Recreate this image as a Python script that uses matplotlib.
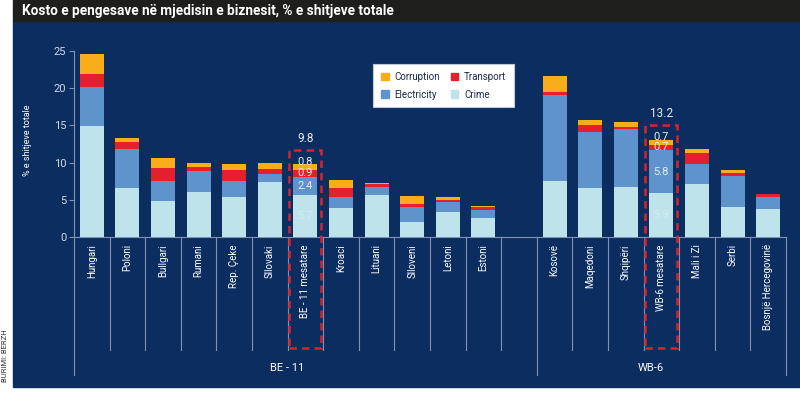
import numpy as np
import matplotlib
matplotlib.use("Agg")
import matplotlib.pyplot as plt
from matplotlib.patches import Rectangle, Patch

plt.rcParams['font.family'] = ['Roboto', 'DejaVu Sans']

# kategorite (slot 12 bosh, ndan dy grupet)
vendet = ['Hungari', 'Poloni', 'Bullgari', 'Rumani', 'Rep. Çeke', 'Sllovaki',
          'BE - 11 mesatare', 'Kroaci', 'Lituani', 'Slloveni', 'Letoni', 'Estoni',
          '', 'Kosovë', 'Maqedoni', 'Shqipëri', 'WB-6 mesatare', 'Mali i Zi',
          'Serbi', 'Bosnjë Hercegovinë']

crime = [14.9, 6.6, 4.9, 6.1, 5.4, 7.4, 5.7, 3.9, 5.7, 2.0, 3.35, 2.6,
         0, 7.6, 6.55, 6.8, 5.9, 7.1, 4.1, 3.75]
electricity = [5.2, 5.2, 2.7, 2.8, 2.1, 1.1, 2.4, 1.55, 1.0, 2.1, 1.35, 1.05,
               0, 11.4, 7.5, 7.65, 5.8, 2.7, 4.15, 1.6]
transport = [1.8, 1.0, 1.7, 0.5, 1.5, 0.6, 0.9, 1.2, 0.5, 0.3, 0.25, 0.45,
             0, 0.4, 0.95, 0.3, 0.7, 1.55, 0.3, 0.4]
corruption = [2.6, 0.45, 1.3, 0.6, 0.85, 0.8, 0.8, 1.0, 0.1, 1.1, 0.5, 0.1,
              0, 2.2, 0.7, 0.7, 0.7, 0.5, 0.4, 0.1]

mesatare = [6, 16]            # indekset e mesatareve
totale = ['9.8', '13.2']
grupet = ['BE - 11', 'WB-6']

navy = '#0c2d60'
c_crime = '#bfe3ea'
c_elec = '#5e93cb'
c_trans = '#e5202e'
c_corr = '#f9ad1a'
kuq = '#d8232e'
vija = '#7f93b5'

fig = plt.figure(figsize=(8, 3.93), dpi=100)
fig.patch.set_facecolor('white')
fig.patches.append(Rectangle((12.7/800, 6.3/393), 1 - 12.7/800, 1 - 6.3/393 - 20.7/393,
                             transform=fig.transFigure, color=navy, zorder=-10))
fig.patches.append(Rectangle((12.7/800, 1 - 20.7/393), 1 - 12.7/800, 20.7/393,
                             transform=fig.transFigure, color='#1e1e1c', zorder=-10))
fig.text(22/800, 1 - 10.5/393, 'Kosto e pengesave në mjedisin e biznesit, % e shitjeve totale',
         color='white', fontsize=9.8, fontweight='bold', va='center', ha='left')
fig.text(5.5/800, 1 - 356/393, 'BURIMI: BERZH', rotation=90, fontsize=5.5, color='#333333',
         va='center', ha='center')
fig.text(28/800, 1 - 140/393, '% e shitjeve totale', rotation=90, fontsize=6.5,
         color='white', va='center', ha='center')

ax = fig.add_axes([74/800, 155.7/393, 712/800, 186.6/393])
ax.set_facecolor('none')

x = np.arange(len(vendet))
w = 0.67
crime = np.array(crime)
electricity = np.array(electricity)
transport = np.array(transport)
corruption = np.array(corruption)

ax.bar(x, crime, w, color=c_crime, label='Crime', zorder=3)
ax.bar(x, electricity, w, bottom=crime, color=c_elec, label='Electricity', zorder=3)
b2 = crime + electricity
ax.bar(x, transport, w, bottom=b2, color=c_trans, label='Transport', zorder=3)
b3 = b2 + transport
ax.bar(x, corruption, w, bottom=b3, color=c_corr, label='Corruption', zorder=3)
tot = b3 + corruption

ax.set_xlim(-0.5, 19.5)
ax.set_ylim(0, 25)
ax.set_yticks([0, 5, 10, 15, 20, 25])
ax.tick_params(axis='y', colors=vija, labelcolor='#d0dae8', labelsize=8, length=3.5,
               width=0.8, pad=2)
ax.set_xticks(x)
ax.set_xticklabels(vendet, rotation=90, fontsize=7, color='white', va='top')
ax.tick_params(axis='x', length=0, pad=5)
for s in ['top', 'right']:
    ax.spines[s].set_visible(False)
ax.spines['left'].set_color(vija)
ax.spines['bottom'].set_color(vija)
ax.spines['left'].set_linewidth(0.8)
ax.spines['bottom'].set_linewidth(0.8)

# vijat ndarese poshte boshtit
for b in np.arange(-0.5, 20, 1.0):
    fund = -18.4 if b in (-0.5, 12.5, 19.5) else -15.1
    ax.plot([b, b], [0, fund], color=vija, lw=0.8, clip_on=False, zorder=1)

ax.text(5.5, -17.5, grupet[0], color='white', fontsize=8, ha='center', va='center')
ax.text(15.7, -17.5, grupet[1], color='white', fontsize=8, ha='center', va='center')

# mesataret: etiketat dhe kutite e kuqe
for i, t in zip(mesatare, totale):
    ax.text(i, crime[i] / 2, f'{crime[i]:.1f}', ha='center', va='center', fontsize=8,
            color='#d3ebf0', zorder=5)
    segs = [(electricity[i], crime[i], 0),
            (transport[i], b2[i], 0),
            (corruption[i], b3[i], 0.65)]
    for v, b, off in segs:
        ax.text(i, b + v / 2 + off, f'{v:.1f}', ha='center', va='center', fontsize=8,
                color='#e8ecf2', zorder=5)
    top = tot[i] + 1.9
    ax.add_patch(Rectangle((i - 0.45, -14.8), 0.9, top + 14.8, fill=False, ec=kuq,
                           lw=1.8, ls=(0, (3, 2)), clip_on=False, zorder=6))
    ax.text(i, top + 1.6, t, ha='center', va='center', fontsize=8.5, color='#e8ecf2')

h = [Patch(color=c_corr), Patch(color=c_elec), Patch(color=c_trans), Patch(color=c_crime)]
lab = ['Corruption', 'Electricity', 'Transport', 'Crime']
leg = fig.legend(h, lab, ncol=2, loc='upper left', bbox_to_anchor=(373/800, 1 - 64/393),
                 fontsize=7, frameon=True, fancybox=False, framealpha=1, handlelength=0.8,
                 handleheight=0.8, handletextpad=0.6, columnspacing=1.1,
                 borderpad=0.8, labelspacing=0.8, borderaxespad=0)
leg.get_frame().set_facecolor('white')
leg.get_frame().set_edgecolor('#c0c8d8')
leg.get_frame().set_linewidth(0.8)
for tx in leg.get_texts():
    tx.set_color('#1a2a4a')

fig.savefig('out.png', dpi=100, facecolor=fig.get_facecolor())
